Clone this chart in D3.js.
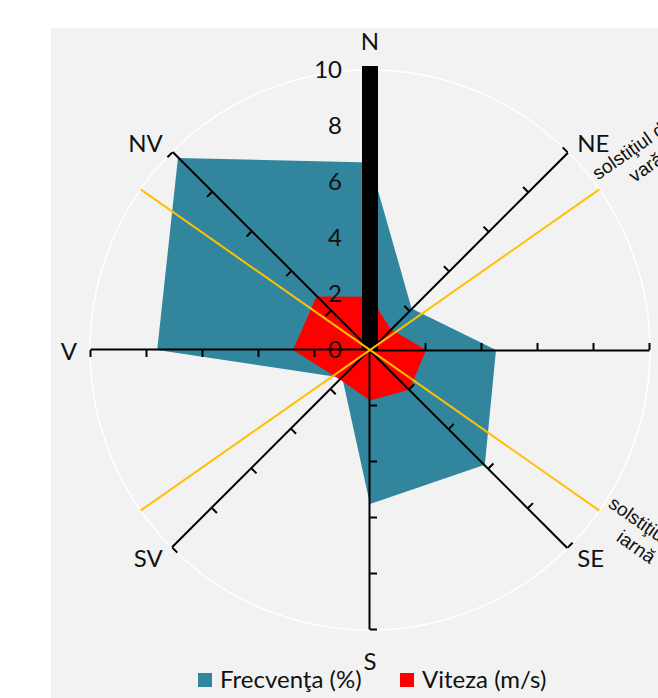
<!DOCTYPE html>
<html>
<head>
<meta charset="utf-8">
<script src="https://cdn.jsdelivr.net/npm/d3@7"></script>
<style>
  body { margin: 0; background: #fff; }
  svg text { font-family: Lato, "Open Sans", sans-serif; fill: #111; }
</style>
</head>
<body>
<div id="chart"></div>
<script>
// directii vant
const directions = ["N", "NE", "E", "SE", "S", "SV", "V", "NV"];
const frecventa = [6.7, 2.1, 4.5, 5.8, 5.5, 1.4, 7.6, 9.7];   // %
const viteza = [1.9, 1.05, 2.0, 2.0, 1.8, 1.5, 2.75, 2.7];    // m/s
const tickValues = [0, 2, 4, 6, 8, 10];
// azimut rasarit la solstitii (grade fata de N)
const solstitii = [55, 125];
const solstitiiLabels = [["solstiţiul de", "vară"], ["solstiţiul de", "iarnă"]];
const legendLabels = ["Frecvenţa (%)", "Viteza (m/s)"];

const width = 658, height = 698;
const cx = 370, cy = 350;
const colors = ["#31859c", "#ff0000"];
const fs = 24;

const svg = d3.select("#chart").append("svg")
    .attr("width", width)
    .attr("height", height);

svg.append("rect")
    .attr("x", 51).attr("y", 28)
    .attr("width", width - 51).attr("height", height - 28)
    .attr("fill", "#f2f2f2");

const r = d3.scaleLinear().domain([0, 10]).range([0, 280]);
const angle = d3.scalePoint().domain(directions).range([0, 2 * Math.PI * 7 / 8]);

const g = svg.append("g").attr("transform", `translate(${cx},${cy})`);

g.append("circle")
    .attr("r", r(10))
    .attr("fill", "none")
    .attr("stroke", "#fff")
    .attr("stroke-width", 1.5);

const radar = d3.lineRadial()
    .angle((d, i) => angle(directions[i]))
    .radius(d => r(d))
    .curve(d3.curveLinearClosed);

g.append("path").attr("d", radar(frecventa)).attr("fill", colors[0]);
g.append("path").attr("d", radar(viteza)).attr("fill", colors[1]);

// axe radiale
const yAxis = d3.scaleLinear().domain([0, 10]).range([0, -r(10)]);
directions.forEach(dir => {
  const a = g.append("g")
      .attr("transform", `rotate(${angle(dir) * 180 / Math.PI})`)
      .call(d3.axisLeft(yAxis).tickValues(tickValues.slice(1)).tickSize(7).tickSizeOuter(0).tickFormat(""));
  a.select(".domain").attr("stroke", "#000").attr("stroke-width", 2);
  a.selectAll(".tick line").attr("stroke", "#000").attr("stroke-width", 2);
});

// axa N groasa
g.append("line")
    .attr("x1", 0).attr("y1", 0)
    .attr("x2", 0).attr("y2", yAxis(10) - 4)
    .attr("stroke", "#000")
    .attr("stroke-width", 16);

// etichete valori
const lbl = g.append("g")
    .call(d3.axisLeft(yAxis).tickValues(tickValues).tickSize(0).tickPadding(28));
lbl.select(".domain").remove();
lbl.selectAll("text")
    .attr("font-size", fs)
    .attr("font-family", "Lato, sans-serif")
    .attr("fill", "#111");

// linii solstitii
solstitii.forEach((az, i) => {
  const s = g.append("g").attr("transform", `rotate(${az})`);
  s.append("line")
      .attr("x1", 0).attr("y1", -r(10))
      .attr("x2", 0).attr("y2", r(10))
      .attr("stroke", "#ffc000")
      .attr("stroke-width", 2);
  const t = g.append("g")
      .attr("transform", `rotate(${az - 90}) translate(331,-8)`);
  t.selectAll("text").data(solstitiiLabels[i]).join("text")
      .attr("y", (d, j) => j * 23)
      .attr("text-anchor", "middle")
      .style("font-family", "'Liberation Sans', Arial, sans-serif")
      .attr("font-size", 19)
      .text(d => d);
});

// etichete directii
g.selectAll(".dir").data(directions).join("text")
    .attr("class", "dir")
    .each(function(d) {
      const a = angle(d);
      const s = Math.sin(a), c = Math.cos(a);
      const rr = Math.abs(s) < 0.01 ? 310 : 293;
      d3.select(this)
        .attr("x", rr * s)
        .attr("y", -rr * c)
        .attr("text-anchor", s > 0.01 ? "start" : s < -0.01 ? "end" : "middle");
    })
    .attr("dominant-baseline", "central")
    .attr("font-size", fs)
    .text(d => d);

// legenda
const legend = svg.append("g").attr("transform", "translate(198,673)");
const items = legend.selectAll("g").data(legendLabels).join("g")
    .attr("transform", (d, i) => `translate(${i * 202},0)`);
items.append("rect")
    .attr("width", 14).attr("height", 14)
    .attr("fill", (d, i) => colors[i]);
items.append("text")
    .attr("x", 22).attr("y", 15)
    .attr("font-size", fs)
    .text(d => d);
</script>
</body>
</html>
